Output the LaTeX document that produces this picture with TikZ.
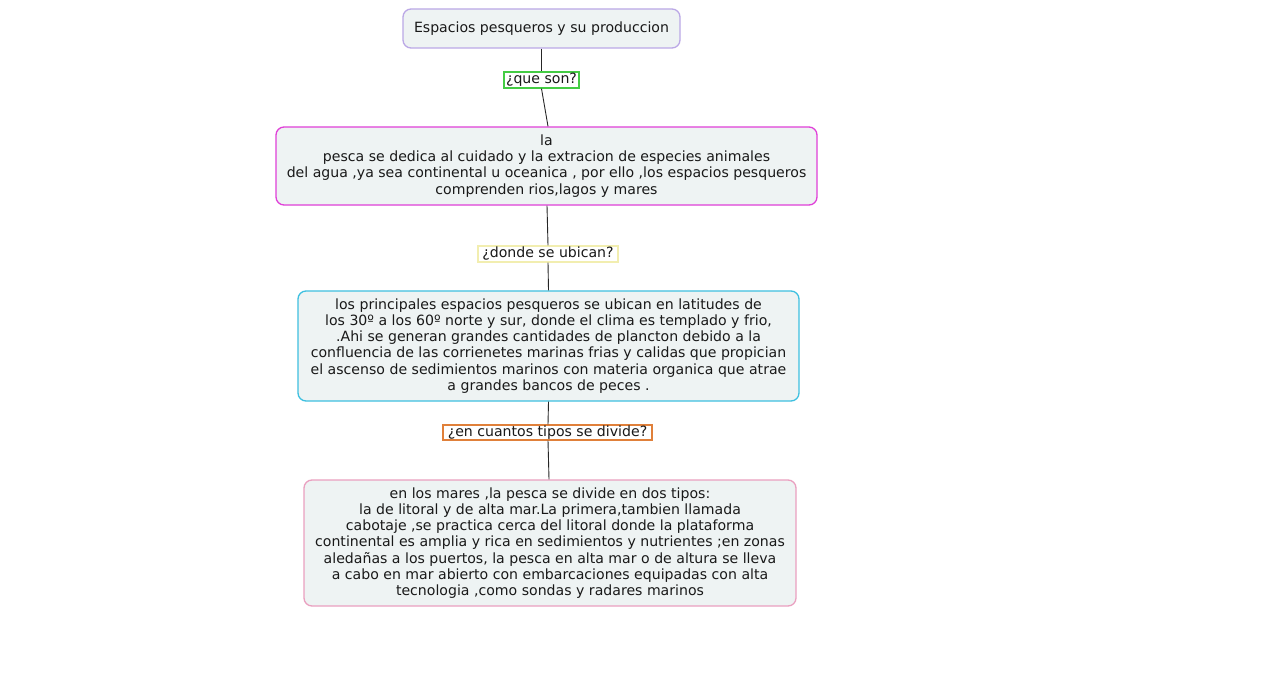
\documentclass[tikz,border=0pt]{standalone}
\usepackage{fontspec}
\setmainfont{DejaVu Sans}
\definecolor{boxfill}{HTML}{EEF3F3}
\definecolor{cA}{HTML}{BBA8E6}
\definecolor{cQ1}{HTML}{44CC44}
\definecolor{cB}{HTML}{E040D8}
\definecolor{cQ2}{HTML}{F2EEB0}
\definecolor{cC}{HTML}{3EC0E0}
\definecolor{cQ3}{HTML}{E0803A}
\definecolor{cD}{HTML}{EAA0C0}
\tikzset{
  mapbox/.style={draw, line width=1.3pt, fill=boxfill, rounded corners=8pt, align=center,
    inner sep=0pt, font=\fontsize{14.1}{16.2}\selectfont, text=black!90},
  qlabel/.style={draw, line width=1.3pt, fill=white, inner sep=0pt, align=center,
    font=\fontsize{14.1}{15}\selectfont, text=black!90},
  link/.style={line width=0.9pt, black!85}
}
\begin{document}
\begin{tikzpicture}[x=1pt,y=-1pt]
\useasboundingbox[fill=white] (0,0) rectangle (1273,682);
\node[mapbox, draw=cA, minimum width=277pt, minimum height=39pt] (top) at (541.5,28.5) {Espacios pesqueros y su produccion};
\node[qlabel, draw=cQ1, minimum width=75pt, minimum height=16pt] (q1) at (541.5,80) {¿que son?};
\node[mapbox, draw=cB, minimum width=541pt, minimum height=78pt] (b2) at (546.5,166) {la\\pesca se dedica al cuidado y la extracion de especies animales\\del agua ,ya sea continental u oceanica , por ello ,los espacios pesqueros\\comprenden rios,lagos y mares};
\node[qlabel, draw=cQ2, minimum width=140pt, minimum height=16pt] (q2) at (548,254) {¿donde se ubican?};
\node[mapbox, draw=cC, minimum width=501pt, minimum height=110pt] (b3) at (548.5,346) {los principales espacios pesqueros se ubican en latitudes de\\los 30º a los 60º norte y sur, donde el clima es templado y frio,\\.Ahi se generan grandes cantidades de plancton debido a la\\confluencia de las corrienetes marinas frias y calidas que propician\\el ascenso de sedimientos marinos con materia organica que atrae\\a grandes bancos de peces .};
\node[qlabel, draw=cQ3, minimum width=209pt, minimum height=15pt] (q3) at (547.5,432.5) {¿en cuantos tipos se divide?};
\node[mapbox, draw=cD, minimum width=492pt, minimum height=126pt] (b4) at (550,543) {en los mares ,la pesca se divide en dos tipos:\\la de litoral y de alta mar.La primera,tambien llamada\\cabotaje ,se practica cerca del litoral donde la plataforma\\continental es amplia y rica en sedimientos y nutrientes ;en zonas\\aledañas a los puertos, la pesca en alta mar o de altura se lleva\\a cabo en mar abierto con embarcaciones equipadas con alta\\tecnologia ,como sondas y radares marinos};
\draw[link] (top.south) -- (q1.north);
\draw[link] (q1.south) -- ([xshift=1.5pt]b2.north);
\draw[link] ([xshift=0.5pt]b2.south) -- (q2.north);
\draw[link] (q2.south) -- (b3.north);
\draw[link] (b3.south) -- ([xshift=0.5pt]q3.north);
\draw[link] ([xshift=0.5pt]q3.south) -- ([xshift=-1pt]b4.north);
\end{tikzpicture}
\end{document}
